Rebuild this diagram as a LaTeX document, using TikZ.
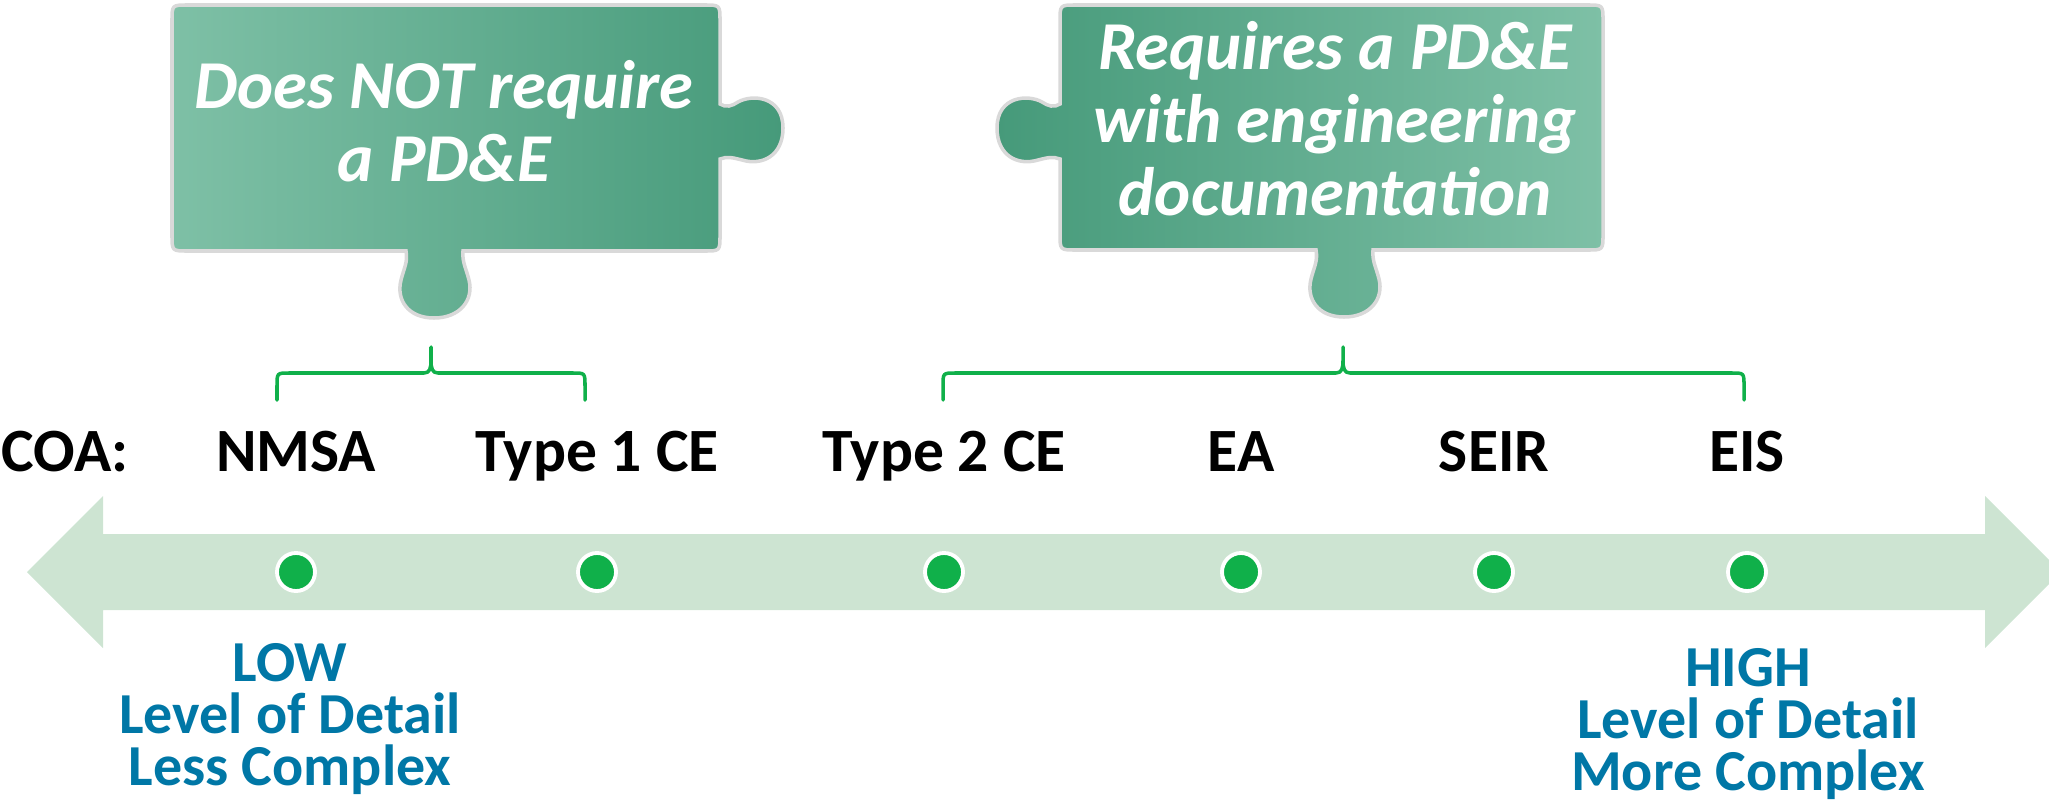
\documentclass[tikz,border=0pt]{standalone}
\usepackage{fontspec}
\setmainfont{Carlito}
\usepackage{tikz}

\definecolor{shaftgreen}{RGB}{205,228,210}
\definecolor{dotgreen}{RGB}{16,176,74}
\definecolor{detailblue}{RGB}{0,119,166}
\definecolor{pieceLight}{RGB}{126,192,166}
\definecolor{pieceDark}{RGB}{70,154,122}

\begin{document}
\begin{tikzpicture}[x=0.01cm, y=-0.01cm,
		coa/.style={anchor=base, inner sep=0pt, font=\fontsize{17.5}{20}\selectfont\bfseries},
		dot/.style={circle, fill=dotgreen, draw=white, line width=1.1pt, minimum size=0.38cm, inner sep=0pt},
		bracket/.style={draw=dotgreen, line width=1pt, line join=round, line cap=round},
		piece/.style={draw=gray!30, line width=1pt},
		piecetext/.style={text=white, align=center, inner sep=0pt, font=\fontsize{19.5}{20.8}\selectfont\bfseries\itshape},
		detail/.style={text=detailblue, align=center, inner sep=0pt, font=\fontsize{16.5}{14.8}\selectfont\bfseries}]
	\useasboundingbox (0,0) rectangle (2049,800);
	\clip (0,0) rectangle (2049,800);

	\fill[shaftgreen] (27,572) -- (103,496) -- (103,534) -- (1985,534) -- (1985,496) -- (2061,572)
		-- (1985,648) -- (1985,610) -- (103,610) -- (103,648) -- cycle;

	\node[coa] (coa)  at (65,471)   {COA:};
	\node[coa] (nmsa) at (296,471)  {NMSA};
	\node[coa] (ce1)  at (597,471)  {Type 1 CE};
	\node[coa] (ce2)  at (944,471)  {Type 2 CE};
	\node[coa] (ea)   at (1241,471) {EA};
	\node[coa] (seir) at (1494,471) {SEIR};
	\node[coa] (eis)  at (1747,471) {EIS};

	\node[dot] (d1) at (nmsa |- 0,572) {};
	\node[dot] (d2) at (ce1 |- 0,572)  {};
	\node[dot] (d3) at (ce2 |- 0,572)  {};
	\node[dot] (d4) at (ea |- 0,572)   {};
	\node[dot] (d5) at (seir |- 0,572) {};
	\node[dot] (d6) at (eis |- 0,572)  {};

	\draw[bracket] (277,400) -- (277,386) .. controls (277,373) .. (289,373) -- (424,373)
		.. controls (430,373) and (431,368) .. (431,360) -- (431,347) -- (431,360)
		.. controls (431,368) and (432,373) .. (438,373) -- (573,373) .. controls (585,373) .. (585,386) -- (585,400);
	\draw[bracket] (943,400) -- (943,386) .. controls (943,373) .. (955,373) -- (1336,373)
		.. controls (1342,373) and (1343,368) .. (1343,360) -- (1343,347) -- (1343,360)
		.. controls (1343,368) and (1344,373) .. (1350,373) -- (1732,373) .. controls (1744,373) .. (1744,386) -- (1744,400);

	\draw[piece, left color=pieceLight, right color=pieceDark]
		(188,5) -- (704,5) .. controls (720,5) .. (720,21)
		-- (720,104) .. controls (726,108) and (732,106) .. (738,102)
		.. controls (752,94) and (783,96) .. (783,128)
		.. controls (783,156) and (762,166) .. (742,160)
		.. controls (734,158) and (727,156) .. (720,159)
		-- (720,235) .. controls (720,251) .. (704,251)
		-- (463,251) .. controls (462,262) and (466,268) .. (469,280)
		.. controls (474,300) and (460,318) .. (434,318)
		.. controls (408,318) and (396,300) .. (401,280)
		.. controls (404,268) and (408,262) .. (406,251)
		-- (188,251) .. controls (172,251) .. (172,235)
		-- (172,21) .. controls (172,5) .. (188,5) -- cycle;
	\draw[piece, left color=pieceDark, right color=pieceLight]
		(1076,5) -- (1587,5) .. controls (1603,5) .. (1603,21)
		-- (1603,234) .. controls (1603,250) .. (1587,250)
		-- (1373,250) .. controls (1372,261) and (1376,267) .. (1379,279)
		.. controls (1384,299) and (1370,317) .. (1344,317)
		.. controls (1318,317) and (1306,299) .. (1311,279)
		.. controls (1314,267) and (1318,261) .. (1316,250)
		-- (1076,250) .. controls (1060,250) .. (1060,234)
		-- (1060,159) .. controls (1053,156) and (1046,158) .. (1038,160)
		.. controls (1018,166) and (997,156) .. (997,128)
		.. controls (997,96) and (1028,94) .. (1042,102)
		.. controls (1048,106) and (1054,108) .. (1060,104)
		-- (1060,21) .. controls (1060,5) .. (1076,5) -- cycle;

	\node[piecetext] (nopde) at (444,121)  {Does NOT require\\a PD\&E};
	\node[piecetext] (pde)   at (1335,119) {Requires a PD\&E\\with engineering\\documentation};

	\node[detail] (low)  at (290,719)  {LOW\\Level of Detail\\Less Complex};
	\node[detail] (high) at (1748,724) {HIGH\\Level of Detail\\More Complex};
\end{tikzpicture}
\end{document}
